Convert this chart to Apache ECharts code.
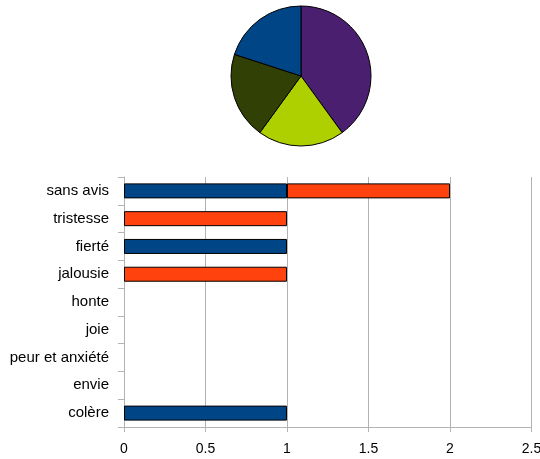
<!DOCTYPE html>
<html>
<head>
<meta charset="utf-8">
<script src="https://cdn.jsdelivr.net/npm/echarts@6/dist/echarts.min.js"></script>
<style>
  html, body { margin: 0; padding: 0; background: #fff; }
  #chart { width: 540px; height: 459px; }
</style>
</head>
<body>
<div id="chart"></div>
<script>
// pie slices, clockwise from the top
const pieValues = [2, 1, 1, 1];
const pieColors = ['#4b1f6f', '#aecf00', '#314004', '#004586'];

// bar chart, bottom to top (echarts category order)
const categories = ['colère', 'envie', 'peur et anxiété', 'joie', 'honte', 'jalousie', 'fierté', 'tristesse', 'sans avis'];
const blueValues = [1, 0, 0, 0, 0, 0, 1, 0, 1];
const redValues = [0, 0, 0, 0, 0, 1, 0, 1, 1];
const xTicks = [0, 0.5, 1, 1.5, 2, 2.5];

const myChart = echarts.init(document.getElementById('chart'));

const barItem = (color) => ({
  color: color,
  borderColor: '#000',
  borderWidth: 1
});

const option = {
  animation: false,
  textStyle: { fontFamily: 'Liberation Sans, Arial, sans-serif' },
  grid: { left: 124, right: 8.5, top: 177, bottom: 32, outerBoundsMode: 'none' },
  xAxis: {
    type: 'value',
    min: xTicks[0],
    max: xTicks[xTicks.length - 1],
    interval: 0.5,
    axisLine: { show: true, lineStyle: { color: '#b3b3b3' } },
    axisTick: { show: true, length: 5, lineStyle: { color: '#b3b3b3' } },
    splitLine: { show: true, lineStyle: { color: '#b3b3b3' } },
    axisLabel: { color: '#000', fontSize: 14, margin: 15 }
  },
  yAxis: {
    type: 'category',
    data: categories,
    axisLine: { show: true, lineStyle: { color: '#b3b3b3' } },
    axisTick: { show: true, length: 6, lineStyle: { color: '#b3b3b3' } },
    splitLine: { show: false },
    axisLabel: { color: '#000', fontSize: 15, margin: 15 }
  },
  series: [
    {
      type: 'pie',
      radius: 70,
      center: [301, 76],
      startAngle: 90,
      clockwise: true,
      label: { show: false },
      labelLine: { show: false },
      silent: true,
      data: pieValues.map((v, i) => ({
        value: v,
        itemStyle: { color: pieColors[i], borderColor: '#000', borderWidth: 1 }
      }))
    },
    {
      name: 'blue',
      type: 'bar',
      stack: 'total',
      barWidth: 15,
      data: blueValues.map(v => v || null),
      itemStyle: barItem('#004586')
    },
    {
      name: 'red',
      type: 'bar',
      stack: 'total',
      barWidth: 15,
      data: redValues.map(v => v || null),
      itemStyle: barItem('#ff420e')
    }
  ]
};

myChart.setOption(option);
</script>
</body>
</html>
